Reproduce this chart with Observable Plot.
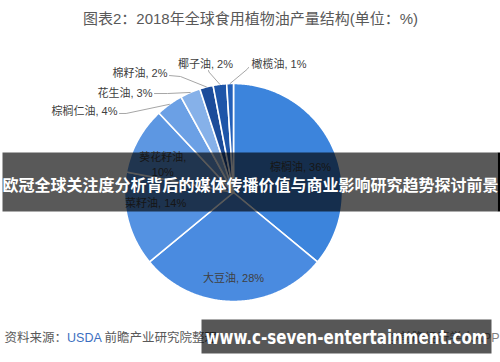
<!DOCTYPE html>
<html><head><meta charset="utf-8">
<script src="https://cdn.jsdelivr.net/npm/d3@7"></script>
<script src="https://cdn.jsdelivr.net/npm/@observablehq/plot@0.6"></script>
<style>body{margin:0;background:#fff;} svg{display:block;}</style>
</head><body><div id="chart"></div>
<script>
// ---- data ----
const categories = ["棕榈油","大豆油","菜籽油","葵花籽油","棕榈仁油","花生油","棉籽油","椰子油","橄榄油"];
const shares = [36,28,14,10,4,3,2,2,1];
const sliceColors = ["#3C84DC","#4A8BE0","#5492E2","#5D97E2","#6BA0E5","#86B1E9","#1C4C9A","#1E55A8","#2460B8"];
const titleText = "图表2：2018年全球食用植物油产量结构(单位：%)";
const sourceLabel = "资料来源：";
const sourceOrg = "USDA";
const sourceRest = " 前瞻产业研究院整理";
const appText = "@前瞻经济学人APP";
const bannerText = "欧冠全球关注度分析背后的媒体传播价值与商业影响研究趋势探讨前景";
const urlText = "www.c-seven-entertainment.com";

// ---- layout (pixels / radius units) ----
const W = 500, H = 362, CX = 233, CY = 192, R = 109;
const xDomain = [-CX / R, (W - CX) / R];
const yDomain = [-(H - CY) / R, CY / R];
// inside labels: radius factor and angle tweak (deg)
const insideLayout = {
  "棕榈油": {r: 0.66, da: 4},
  "大豆油": {r: 0.78, da: 0},
  "菜籽油": {r: 0.72, da: 7},
  "葵花籽油": {r: 0.70, da: -6.6, lines: true}
};
// outside labels: text point, anchor, leader tail/elbow (radius units)
const outsideLayout = {
  "棕榈仁油": {t: [-1.064, 0.743], anchor: "end", tail: [-1.046, 0.725], elbow: [-0.985, 0.725]},
  "花生油": {t: [-0.743, 0.908], anchor: "end", tail: [-0.725, 0.908], elbow: [-0.606, 0.908]},
  "棉籽油": {t: [-0.606, 1.092], anchor: "end", tail: [-0.587, 1.073], elbow: [-0.486, 1.064]},
  "椰子油": {t: [-0.257, 1.174], anchor: "middle", tail: [-0.229, 1.119], elbow: [-0.225, 1.105]},
  "橄榄油": {t: [0.165, 1.174], anchor: "start", tail: [0.138, 1.147], elbow: [0.125, 1.13]}
};

const data = categories.map((name, i) => ({name, value: shares[i], color: sliceColors[i]}));
const arcs = d3.pie().sort(null).value(d => d.value)(data);

// slice polygons
const polyPts = [];
arcs.forEach(a => {
  const n = Math.max(4, Math.ceil((a.endAngle - a.startAngle) / 0.01));
  polyPts.push({name: a.data.name, color: a.data.color, x: 0, y: 0});
  for (let k = 0; k <= n; k++) {
    const t = a.startAngle + (a.endAngle - a.startAngle) * k / n;
    polyPts.push({name: a.data.name, color: a.data.color, x: Math.sin(t), y: Math.cos(t)});
  }
  polyPts.push({name: a.data.name, color: a.data.color, x: 0, y: 0});
});

const insideLabels = [];
const outsideLabels = [];
const leaders = [];
arcs.forEach(a => {
  const name = a.data.name;
  const mid = (a.startAngle + a.endAngle) / 2;
  const txt = `${name}, ${a.data.value}%`;
  if (insideLayout[name]) {
    const L = insideLayout[name];
    const ang = mid + L.da * Math.PI / 180;
    insideLabels.push({x: L.r * Math.sin(ang), y: L.r * Math.cos(ang),
      text: L.lines ? `${name},\n${a.data.value}%` : txt});
  } else if (outsideLayout[name]) {
    const L = outsideLayout[name];
    outsideLabels.push({x: L.t[0], y: L.t[1], text: txt, anchor: L.anchor});
    leaders.push({name, x: Math.sin(mid), y: Math.cos(mid)});
    leaders.push({name, x: L.elbow[0], y: L.elbow[1]});
    leaders.push({name, x: L.tail[0], y: L.tail[1]});
  }
});

const FONT = "'Liberation Sans','Noto Sans CJK SC',sans-serif";
const labelColor = "#404040";

const chart = Plot.plot({
  width: W, height: H, margin: 0,
  x: {domain: xDomain, axis: null},
  y: {domain: yDomain, axis: null},
  color: {type: "identity"},
  style: {fontFamily: FONT, background: "white", overflow: "visible"},
  marks: [
    Plot.line(polyPts, {x: "x", y: "y", z: "name", fill: "color", stroke: "white", strokeWidth: 1.6, strokeLinejoin: "round"}),
    Plot.line(leaders, {x: "x", y: "y", z: "name", stroke: "#A6A6A6", strokeWidth: 1}),
    Plot.text(insideLabels, {x: "x", y: "y", text: "text", fill: labelColor, fontSize: 11, lineHeight: 1.35}),
    Plot.text(outsideLabels.filter(d => d.anchor === "end"), {x: "x", y: "y", text: "text", textAnchor: "end", fill: labelColor, fontSize: 11}),
    Plot.text(outsideLabels.filter(d => d.anchor === "middle"), {x: "x", y: "y", text: "text", textAnchor: "middle", fill: labelColor, fontSize: 11}),
    Plot.text(outsideLabels.filter(d => d.anchor === "start"), {x: "x", y: "y", text: "text", textAnchor: "start", fill: labelColor, fontSize: 11}),
    Plot.text([titleText], {frameAnchor: "top", dy: 19, lineAnchor: "middle", fill: "#595959", fontSize: 15}),
    Plot.text([sourceLabel + sourceOrg + sourceRest], {frameAnchor: "bottom-left", dx: 4, dy: -25, lineAnchor: "middle", fill: "#595959", fontSize: 12.5, textAnchor: "start"}),
    Plot.text([appText], {frameAnchor: "bottom-right", dx: -1, dy: -25, lineAnchor: "middle", fill: "#7f7f7f", fontSize: 12.5, textAnchor: "end"}),
    // overlay banner
    Plot.frame({fill: "black", fillOpacity: 0.65, stroke: null, insetTop: 152, insetBottom: H - 211, insetLeft: 2, insetRight: 3}),
    Plot.frame({fill: "black", stroke: null, insetTop: 152, insetBottom: H - 211, insetLeft: 497, insetRight: 0}),
    Plot.text([bannerText], {frameAnchor: "top", dy: 185, lineAnchor: "middle", fill: "white", fontWeight: "bold", fontSize: 16, fontFamily: "'Noto Sans CJK SC',sans-serif"}),
    // url box
    Plot.frame({fill: "black", fillOpacity: 0.66, stroke: null, insetTop: 319, insetBottom: H - 353, insetLeft: 201, insetRight: W - 491}),
    Plot.text([urlText], {frameAnchor: "top-left", dx: 346, dy: 337, lineAnchor: "middle", fill: "white", fontWeight: "bold", fontSize: 20, fontFamily: "'DejaVu Sans',sans-serif", textAnchor: "middle"})
  ]
});

// colour the source org name, fit the url text
d3.select(chart).selectAll("text").each(function() {
  const el = d3.select(this);
  if (el.text() === sourceLabel + sourceOrg + sourceRest) {
    const target = el.select("tspan").empty() ? el : el.select("tspan");
    target.text(null);
    target.append("tspan").text(sourceLabel);
    target.append("tspan").attr("fill", "#3C6FBF").text(sourceOrg);
    target.append("tspan").attr("fill", "#595959").text(sourceRest);
  }
  if (el.text() === urlText) {
    el.attr("textLength", 282).attr("lengthAdjust", "spacingAndGlyphs");
  }
});
document.getElementById("chart").appendChild(chart);
</script>
</body></html>
